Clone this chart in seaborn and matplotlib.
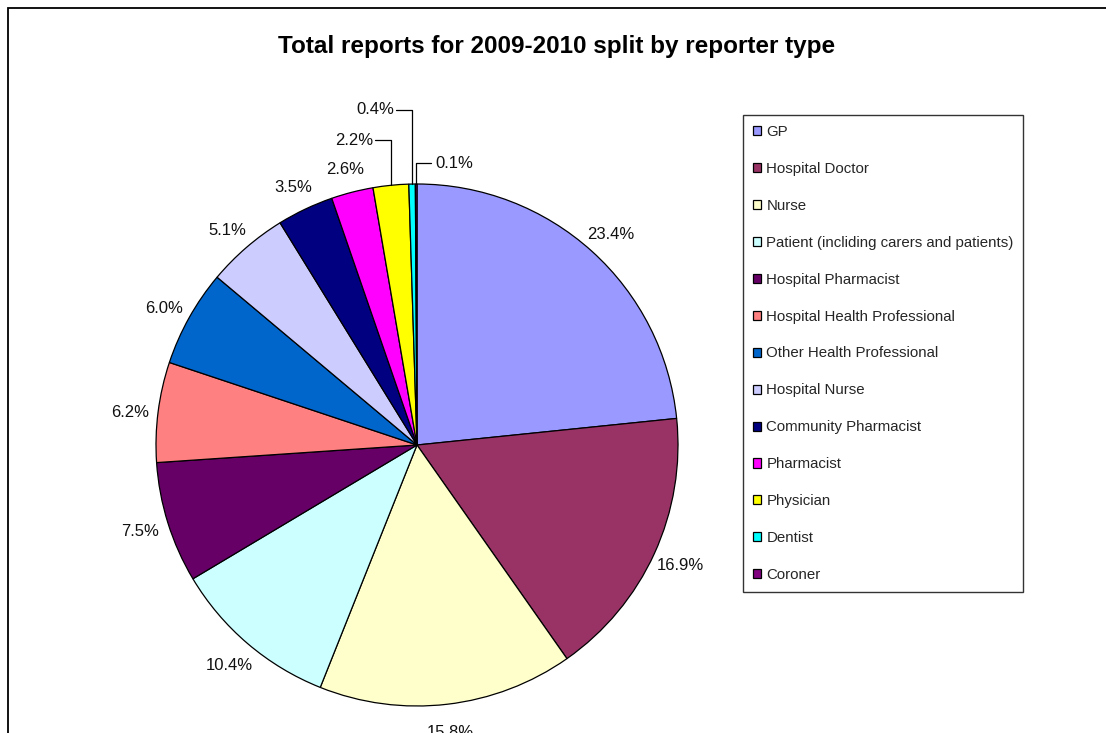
import numpy as np
import matplotlib
matplotlib.use('Agg')
import matplotlib.pyplot as plt
import matplotlib.patches as mpatches
import seaborn as sns

# Data
categories = ['GP', 'Hospital Doctor', 'Nurse', 'Patient (incliding carers and patients)',
              'Hospital Pharmacist', 'Hospital Health Professional', 'Other Health Professional',
              'Hospital Nurse', 'Community Pharmacist', 'Pharmacist', 'Physician', 'Dentist', 'Coroner']
shares = [23.4, 16.9, 15.8, 10.4, 7.5, 6.2, 6.0, 5.1, 3.5, 2.6, 2.2, 0.4, 0.1]
colors = ['#9999FF', '#993366', '#FFFFCC', '#CCFFFF', '#660066', '#FF8080', '#0066CC',
          '#CCCCFF', '#000080', '#FF00FF', '#FFFF00', '#00FFFF', '#800080']
title = 'Total reports for 2009-2010 split by reporter type'

sns.set_theme(style='white')
plt.rcParams['font.family'] = ['Liberation Sans', 'DejaVu Sans']

W, H = 1106, 733
fig = plt.figure(figsize=(W / 100, H / 100), dpi=100)
fig.patch.set_facecolor('white')

# pie placement in pixels
cx, cy, R = 417, 445, 261
lim = 1.6
side = 2 * lim * R
ax = fig.add_axes([(cx - side / 2) / W, (H - cy - side / 2) / H, side / W, side / H])

palette = sns.color_palette(colors)
wedges, texts, autotexts = ax.pie(
    shares, colors=palette, startangle=90, counterclock=False,
    autopct='%.1f%%', pctdistance=1.11,
    wedgeprops=dict(edgecolor='black', linewidth=0.9),
    textprops=dict(fontsize=12, color='#111111'))
ax.set_xlim(-lim, lim)
ax.set_ylim(-lim, lim)
ax.axis('off')

# nudge the upper labels down a little, like the original
for t in autotexts:
    x, y = t.get_position()
    if y > 0:
        t.set_position((x, y - 0.018))

# small slices get leader lines
leaders = {12: (1.08, 'left'), 11: (1.285, 'right'), 10: (1.167, 'right')}
for i, (ly, side_) in leaders.items():
    w = wedges[i]
    th = np.deg2rad((w.theta1 + w.theta2) / 2)
    x0, y0 = np.cos(th), np.sin(th)
    hseg = 0.06 if side_ == 'right' else 0.055
    x1 = x0 - hseg if side_ == 'right' else x0 + hseg
    ax.plot([x0, x0, x1], [y0, ly, ly], color='black', lw=0.9, clip_on=False)
    t = autotexts[i]
    t.set_position((x1 - 0.008 if side_ == 'right' else x1 + 0.02, ly))
    t.set_ha(side_)

fig.text(557 / W, 1 - 46 / H, title, ha='center', va='center',
         fontsize=17.5, fontweight='bold', color='black')

leg = fig.legend(wedges, categories, loc='upper left',
                 bbox_to_anchor=(743 / W, 1 - 115 / H),
                 frameon=True, fancybox=False, fontsize=10.8,
                 handlelength=0.55, handleheight=0.55, handletextpad=0.35,
                 labelspacing=1.53, borderpad=0.65, borderaxespad=0)
leg.get_frame().set_edgecolor('black')
leg.get_frame().set_linewidth(1.0)

# outer chart border (cropped at right and bottom)
fig.add_artist(mpatches.Rectangle((8 / W, -0.2), 1.5, 1.2 - 8 / H, fill=False,
                                  edgecolor='black', linewidth=1.3,
                                  transform=fig.transFigure, clip_on=False))

fig.savefig('out.png', dpi=100)
